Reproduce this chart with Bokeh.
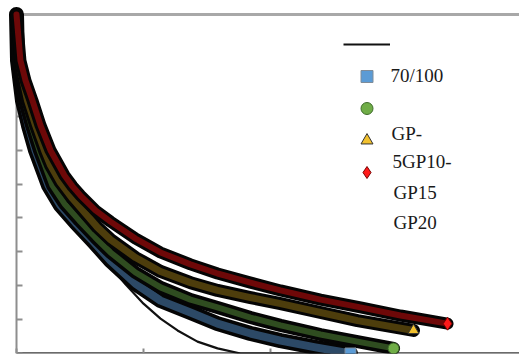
from bokeh.plotting import figure
from bokeh.models import (Range1d, FixedTicker, BoxAnnotation, Label, Legend, LegendItem,
                          CustomJSTickFormatter)
from bokeh.core.properties import value
from bokeh.embed import file_html
from bokeh.resources import INLINE

# ---- data ----
blue_x = [0.0, 0.008, 0.047, 0.094, 0.150, 0.252, 0.346, 0.465, 0.598, 0.740, 0.937,
          1.134, 1.370, 1.583, 1.843, 2.079, 2.354, 2.630]
blue_y = [10.0, 8.64, 7.46, 6.73, 5.99, 4.96, 4.37, 3.86, 3.33, 2.74, 2.06,
          1.56, 1.21, 0.88, 0.59, 0.38, 0.18, 0.0]

green_x = [0.0, 0.008, 0.063, 0.118, 0.181, 0.283, 0.378, 0.496, 0.622, 0.740, 0.937,
           1.134, 1.370, 1.583, 1.843, 2.079, 2.394, 2.685, 2.969]
green_y = [10.0, 8.64, 7.46, 6.73, 5.99, 4.96, 4.42, 3.92, 3.42, 2.98, 2.39,
           1.95, 1.59, 1.36, 1.06, 0.83, 0.56, 0.35, 0.15]

yellow_x = [0.0, 0.016, 0.087, 0.150, 0.220, 0.268, 0.346, 0.441, 0.543, 0.638, 0.740,
            0.937, 1.134, 1.370, 1.583, 1.843, 2.079, 2.394, 2.685, 3.126]
yellow_y = [10.0, 8.64, 7.46, 6.73, 5.99, 5.55, 5.04, 4.57, 4.13, 3.72, 3.36,
            2.83, 2.42, 2.09, 1.86, 1.65, 1.47, 1.21, 0.97, 0.68]

red_x = [0.0, 0.031, 0.071, 0.126, 0.189, 0.268, 0.378, 0.441, 0.504, 0.622, 0.740,
         0.937, 1.134, 1.370, 1.583, 1.843, 2.079, 2.394, 2.709, 3.024, 3.394]
red_y = [10.0, 8.64, 8.05, 7.46, 6.73, 5.99, 5.25, 4.93, 4.66, 4.22, 3.89,
         3.39, 2.98, 2.63, 2.36, 2.09, 1.86, 1.59, 1.36, 1.12, 0.88]

model_x = [0.0, 0.008, 0.047, 0.094, 0.157, 0.260, 0.354, 0.472, 0.598, 0.717, 0.858,
           1.000, 1.134, 1.268, 1.425, 1.583, 1.764, 2.472]
model_y = [10.0, 8.58, 7.35, 6.64, 5.90, 4.87, 4.31, 3.75, 3.22, 2.68, 2.04,
           1.47, 1.03, 0.68, 0.35, 0.15, 0.0, 0.0]

legend_texts = ["70/100", "GP-", "5GP10-", "GP15", "GP20"]

x_ticks = [0, 1, 2, 3]
y_ticks = [0, 1, 2, 3, 4, 5, 6, 7, 8, 9, 10]

# ---- figure ----
p = figure(width=519, height=356, output_backend="svg", toolbar_location=None,
           x_range=Range1d(-16 / 127, 503 / 127), y_range=Range1d(0, 10 + 14 / 33.9),
           min_border_left=0, min_border_right=0, min_border_top=0, min_border_bottom=3)
p.outline_line_color = None
p.grid.visible = False
p.background_fill_color = "white"
p.border_fill_color = "white"

blank = CustomJSTickFormatter(code="return ''")
for ax in (p.xaxis[0], p.yaxis[0]):
    ax.formatter = blank
    ax.major_label_standoff = 0
    ax.major_tick_out = 0
    ax.minor_tick_in = 0
    ax.minor_tick_out = 0
    ax.axis_label = None
    ax.level = "underlay"

xa = p.xaxis[0]
xa.ticker = FixedTicker(ticks=x_ticks)
xa.bounds = (0, 503 / 127)
xa.axis_line_color = "#3a3a3a"
xa.axis_line_width = 2.5
xa.major_tick_in = 5
xa.major_tick_line_color = "#8a8a8a"
xa.major_tick_line_width = 2

ya = p.yaxis[0]
ya.ticker = FixedTicker(ticks=y_ticks)
ya.fixed_location = 0
ya.bounds = (0, 10)
ya.axis_line_color = "#8e8e8e"
ya.axis_line_width = 2
ya.major_tick_in = 6
ya.major_tick_line_color = "#8e8e8e"
ya.major_tick_line_width = 2

# top frame line
top_line = BoxAnnotation(left=0, bottom=10 - 1.5 / 33.9, top=10 + 1.5 / 33.9,
                         fill_color="#a8a8a8", fill_alpha=1, line_color=None, level="underlay")
p.add_layout(top_line)

# model line
r_model = p.line(model_x, model_y, line_color="#111111", line_width=2.2)

# bands (dense markers look)
bands = [
    (blue_x, blue_y, "#2c4966", 15, 8),
    (green_x, green_y, "#2f4c20", 13, 6),
    (yellow_x, yellow_y, "#4d3d0c", 13, 7),
    (red_x, red_y, "#6e0808", 12, 6),
]
for bx, by, col, wout, win in bands:
    p.line(bx, by, line_color="#050505", line_width=wout, line_join="round", line_cap="round")
    p.line(bx, by, line_color=col, line_width=win, line_join="round", line_cap="round")

# end markers
r_blue = p.scatter([blue_x[-1]], [blue_y[-1]], marker="square", size=11,
                   fill_color="#5b9bd5", line_color="#7f8c99", line_width=1)
r_green = p.scatter([green_x[-1]], [green_y[-1]], marker="circle", size=11,
                    fill_color="#70ad47", line_color="#3e6b2a", line_width=1)
r_yellow = p.scatter([yellow_x[-1]], [yellow_y[-1]], marker="triangle", size=11,
                     fill_color="#f2c12e", line_color="#333333", line_width=1)
r_red = p.scatter([red_x[-1]], [red_y[-1]], marker="diamond", size=13,
                  fill_color="#ff1a1a", line_color="#7a0000", line_width=1)

legend = Legend(items=[
    LegendItem(label=value(""), renderers=[r_model]),
    LegendItem(label=value(""), renderers=[r_blue]),
    LegendItem(label=value(""), renderers=[r_green]),
    LegendItem(label=value(""), renderers=[r_yellow]),
    LegendItem(label=value(""), renderers=[r_red]),
], location=(343, 166), orientation="vertical",
    glyph_width=47, glyph_height=30, label_height=30, label_width=0,
    label_standoff=0, spacing=2,
    padding=0, margin=0, border_line_color=None, background_fill_alpha=0)
p.add_layout(legend)

label_pos = [(390, 278), (391, 220), (392, 192), (393, 161), (393, 131)]
for txt, (lx, ly) in zip(legend_texts, label_pos):
    p.add_layout(Label(x=lx, y=ly, x_units="screen", y_units="screen", text=txt,
                       text_font="Liberation Serif", text_font_size="19px",
                       text_color="#1a1a1a", text_baseline="middle", text_align="left"))

open("out.html", "w").write(file_html(p, INLINE))
